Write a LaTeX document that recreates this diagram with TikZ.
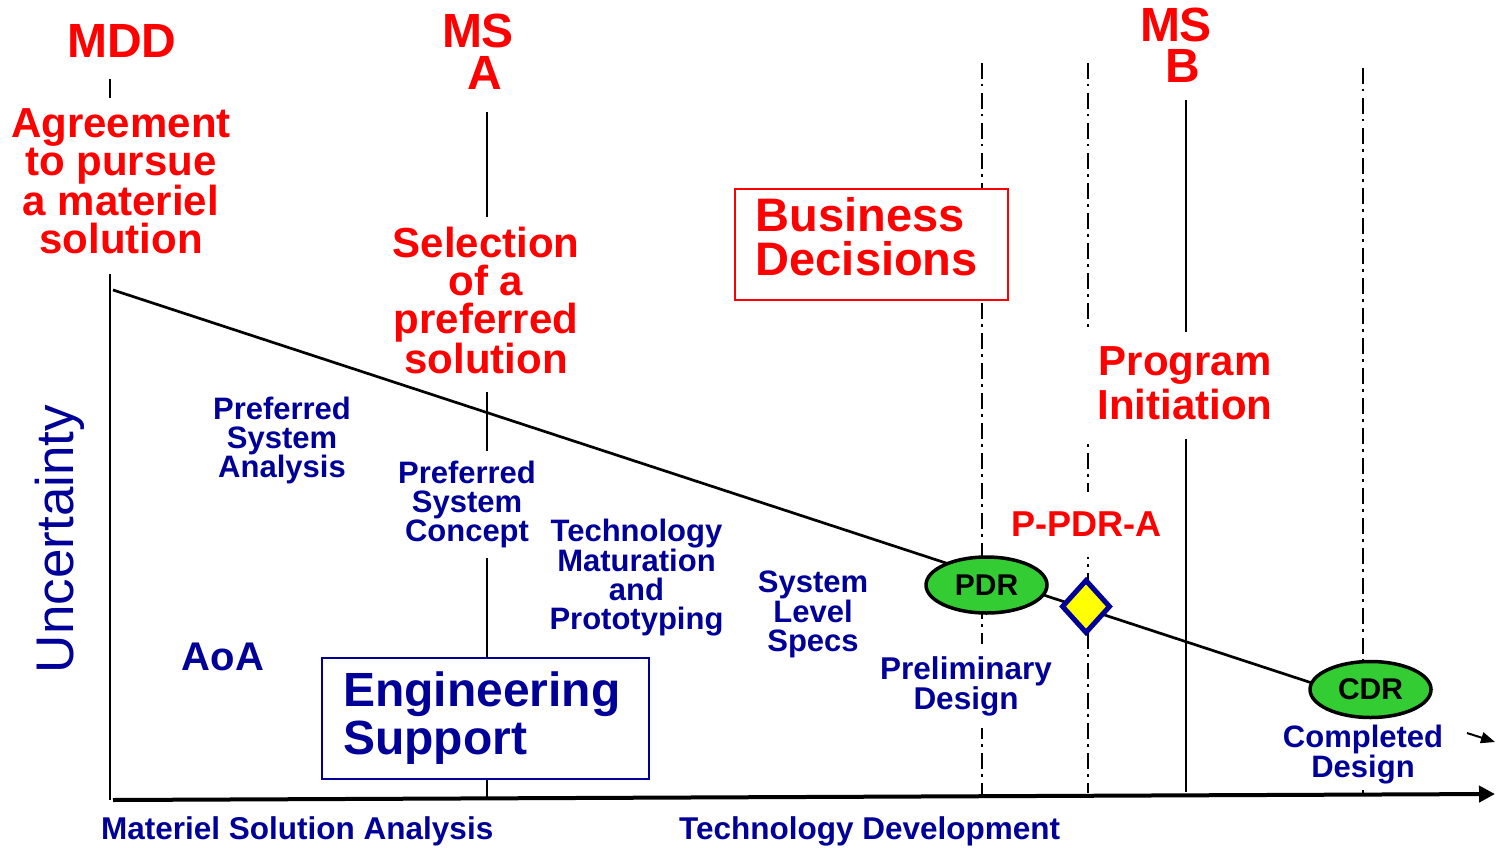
\documentclass[tikz,border=0pt]{standalone}
\usepackage{fontspec}
\setmainfont{Liberation Sans}
\usetikzlibrary{shapes.geometric,arrows.meta,backgrounds}
\definecolor{msred}{RGB}{255,0,0}
\definecolor{msnavy}{RGB}{0,0,153}
\definecolor{msgreen}{RGB}{51,204,51}
\definecolor{msyellow}{RGB}{255,255,0}
\newcommand{\fz}[2]{\fontsize{#1pt}{#2pt}\selectfont}
\begin{document}
\begin{tikzpicture}[x=1pt,y=-1pt,
  redlbl/.style={text=msred,font=\bfseries\fz{42}{38},align=center,inner sep=0pt},
  bluelbl/.style={text=msnavy,font=\bfseries\fz{31}{29},align=center,inner sep=0pt},
  solidline/.style={line width=2pt,black},
  dashdotline/.style={line width=2.7pt,black,dash pattern=on 16pt off 5pt on 2.5pt off 6.5pt},
  review/.style={ellipse,draw=black,line width=3.5pt,fill=msgreen,text=black,font=\bfseries\fz{30}{30},minimum width=121pt,minimum height=56pt,inner sep=0pt},
]
\useasboundingbox (0,0) rectangle (1496,848);

% coordinates
\coordinate (ytop) at (110,79);
\coordinate (ygap) at (110,98);
\coordinate (yresume) at (110,274);
\coordinate (origin) at (110,800);
\coordinate (diagstart) at (113,290);
\coordinate (diagend) at (1370,702);
\coordinate (axisL) at (113,800);
\coordinate (axisR) at (1495,794);
\coordinate (msAtop) at (487,112);
\coordinate (msAgap) at (487,217);
\coordinate (msAresume) at (487,392);
\coordinate (msAbot) at (487,797);
\coordinate (msBtop) at (1186,100);
\coordinate (msBbot) at (1186,792);
\coordinate (ddAtop) at (982,63);
\coordinate (ddAbot) at (982,794);
\coordinate (ddBtop) at (1088,63);
\coordinate (ddBbot) at (1088,793);
\coordinate (ddCtop) at (1363,68);
\coordinate (ddCbot) at (1363,795);
\coordinate (sarrA) at (1467,733);
\coordinate (sarrB) at (1495,742);

% milestone labels
\node[text=msred,font=\bfseries\fz{48}{48},inner sep=0pt,anchor=base] (mdd) at (122,58) {MDD};
\node[redlbl,anchor=north] (agree) at (121,108) {Agreement\\to pursue\\a materiel\\solution};
\node[text=msred,font=\bfseries\fz{48}{42},align=center,inner sep=0pt,anchor=north] (msa) at (478,14) {MS\\\hspace*{13pt}A};
\node[redlbl,font=\bfseries\fz{42}{37.7},anchor=north] (sel) at (486,227) {Selection\\of a\\preferred\\solution};
\node[text=msred,font=\bfseries\fz{48}{41},align=center,inner sep=0pt,anchor=north] (msb) at (1176,8) {MS\\\hspace*{13pt}B};
\node[draw=msred,line width=1.5pt,fill=white,text=msred,font=\bfseries\fz{47}{44},align=left,text width=231pt,inner xsep=21pt,inner ysep=9pt,text depth=59pt,anchor=north west] (biz) at (734,188) {Business\\Decisions};
\node[redlbl,font=\bfseries\fz{42}{44},fill=white,inner xsep=12pt,inner ysep=14pt,text depth=6pt,anchor=north] (pinit) at (1185,332) {Program\\Initiation};
\node[text=msred,font=\bfseries\fz{36}{36},fill=white,inner sep=0pt,minimum width=197pt,minimum height=65pt] (ppdra) at (1086.5,524.5) {P-PDR-A};

% activity labels
\node[bluelbl,anchor=north] (psa) at (282,397) {Preferred\\System\\Analysis};
\node[bluelbl,fill=white,inner xsep=6pt,inner ysep=10pt,anchor=north] (psc) at (467,451) {Preferred\\System\\Concept};
\node[bluelbl,font=\bfseries\fz{31}{28.7},anchor=north] (tmp) at (636.5,519) {Technology\\Maturation\\and\\Prototyping};
\node[bluelbl,font=\bfseries\fz{31}{28.5},anchor=north] (sls) at (813,571) {System\\Level\\Specs};
\node[bluelbl,font=\bfseries\fz{31.5}{27},fill=white,inner xsep=4pt,inner ysep=12pt,anchor=north] (prd) at (966,644) {Preliminary\\Design};
\node[bluelbl,font=\bfseries\fz{31}{28},fill=white,inner xsep=4pt,inner ysep=6pt,anchor=north] (cdd) at (1363,719) {Completed\\Design};
\node[text=msnavy,font=\bfseries\fz{40}{40},inner sep=0pt,anchor=base] (aoa) at (223,670) {AoA};
\node[draw=msnavy,line width=2pt,fill=white,text=msnavy,font=\bfseries\fz{48}{48},align=left,text width=285pt,inner xsep=21pt,inner ysep=14pt,anchor=north west] (eng) at (321,657) {Engineering\\Support};
\node[text=msnavy,font=\fz{53}{53},inner sep=0pt,rotate=90,anchor=base] (unc) at (73,539) {Uncertainty};
\node[text=msnavy,font=\bfseries\fz{31.5}{31.5},inner sep=0pt,anchor=base west] (msaphase) at (101,839) {Materiel Solution Analysis};
\node[text=msnavy,font=\bfseries\fz{31.5}{31.5},inner sep=0pt,anchor=base west] (tdphase) at (679,839) {Technology Development};

% reviews
\node[review] (pdr) at (986.5,585) {PDR};
\node[diamond,draw=msnavy,line width=5pt,fill=msyellow,minimum width=49pt,minimum height=54pt,inner sep=0pt] (ppdr) at (1086,606.5) {};
\node[review] (cdr) at (1370.5,689.5) {CDR};

\begin{scope}[on background layer]
\fill[white] (0,0) rectangle (1496,848);
\draw[solidline] (ytop) -- (ygap);
\draw[solidline] (yresume) -- (origin);
\draw[solidline] (msAtop) -- (msAgap);
\draw[solidline] (msAresume) -- (msAbot);
\draw[solidline,line width=2.5pt] (msBtop) -- (msBbot);
\draw[dashdotline] (ddAtop) -- (ddAbot);
\draw[dashdotline] (ddBtop) -- (ddBbot);
\draw[dashdotline] (ddCtop) -- (ddCbot);
\draw[line width=2.7pt] (diagstart) -- (diagend);
\end{scope}

\draw[line width=4pt,-{Triangle[length=16pt,width=16pt]}] (axisL) -- (axisR);
\draw[line width=2pt,-{Triangle[length=14pt,width=11pt]}] (sarrA) -- (sarrB);
\end{tikzpicture}
\end{document}
